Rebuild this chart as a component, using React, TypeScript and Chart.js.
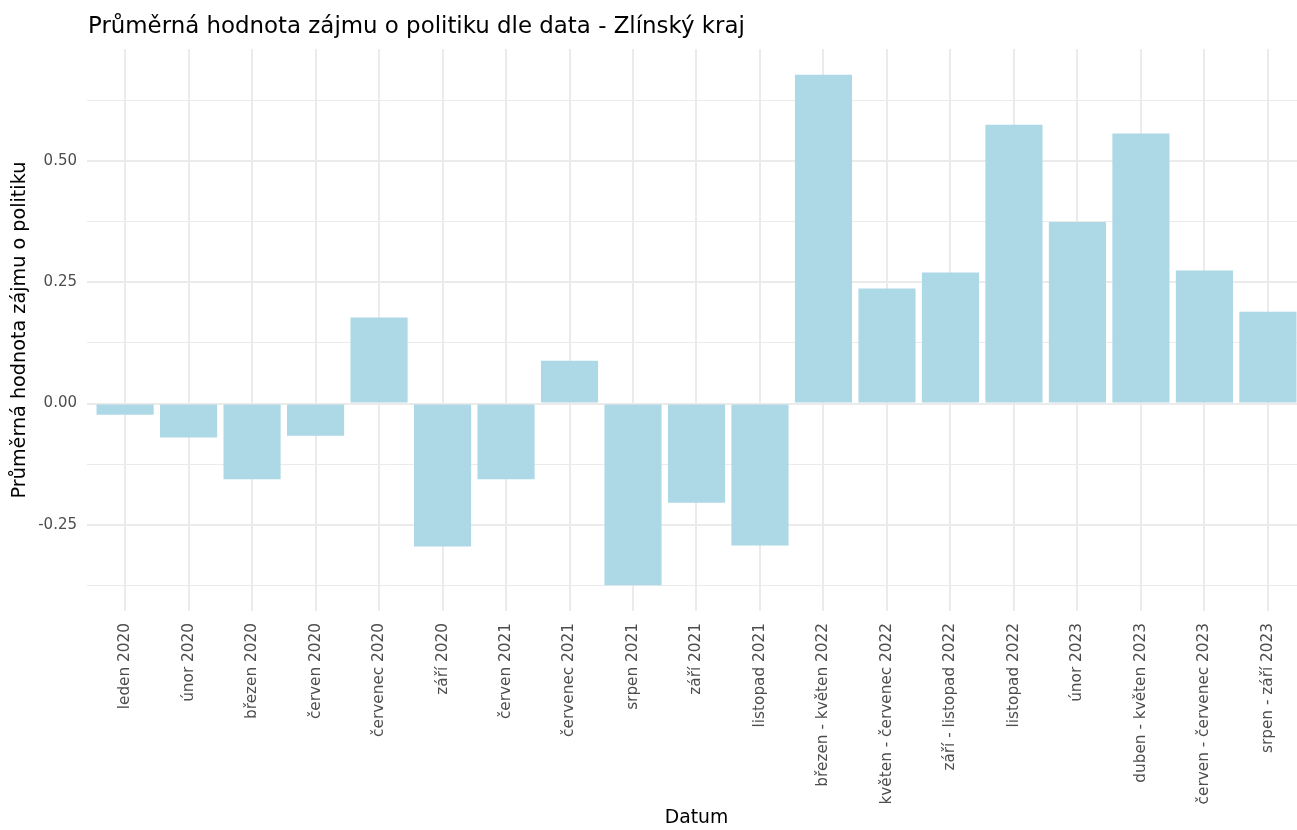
import React, { useEffect, useRef } from "react";
import { Chart, registerables } from "chart.js";

Chart.register(...registerables);

const categories = [
  "leden 2020",
  "únor 2020",
  "březen 2020",
  "červen 2020",
  "červenec 2020",
  "září 2020",
  "červen 2021",
  "červenec 2021",
  "srpen 2021",
  "září 2021",
  "listopad 2021",
  "březen - květen 2022",
  "květen - červenec 2022",
  "září - listopad 2022",
  "listopad 2022",
  "únor 2023",
  "duben - květen 2023",
  "červen - červenec 2023",
  "srpen - září 2023",
];

const values = [
  -0.023, -0.07, -0.156, -0.066, 0.177, -0.294, -0.156, 0.088, -0.374, -0.204,
  -0.292, 0.677, 0.237, 0.27, 0.574, 0.374, 0.556, 0.274, 0.189,
];

const yTicks = [-0.375, -0.25, -0.125, 0, 0.125, 0.25, 0.375, 0.5, 0.625];
const yMajor = [-0.25, 0, 0.25, 0.5];

const titleText = "Průměrná hodnota zájmu o politiku dle data - Zlínský kraj";
const xTitle = "Datum";
const yTitle = "Průměrná hodnota zájmu o politiku";

const FONT = "'DejaVu Sans', sans-serif";

const isMajor = (v: number) => yMajor.some((m) => Math.abs(m - v) < 1e-9);

export default function App() {
  const ref = useRef<HTMLCanvasElement | null>(null);

  useEffect(() => {
    if (!ref.current) return;
    const titlePlugin = {
      id: "ggTitle",
      afterDraw(chart: any) {
        const ctx = chart.ctx;
        ctx.save();
        ctx.font = `22.9px ${FONT}`;
        ctx.fillStyle = "#000000";
        ctx.textAlign = "left";
        ctx.textBaseline = "alphabetic";
        ctx.fillText(titleText, 88, 33);
        ctx.restore();
      },
    };
    const chart = new Chart(ref.current, {
      type: "bar",
      data: {
        datasets: [
          {
            data: values.map((v, i) => ({ x: i, y: v })),
            backgroundColor: "#ADD8E6",
            borderWidth: 0,
            barPercentage: 0.9,
            categoryPercentage: 1,
          },
        ],
      },
      options: {
        responsive: false,
        animation: false,
        layout: { padding: { top: 49, left: 0, right: 0, bottom: 0 } },
        plugins: {
          legend: { display: false },
          tooltip: { enabled: false },
        },
        scales: {
          x: {
            type: "linear",
            min: -0.6,
            max: 18.6,
            offset: false,
            afterBuildTicks: (scale: any) => {
              scale.ticks = categories.map((_, i) => ({ value: i }));
            },
            afterFit: (scale: any) => {
              scale.height = 219;
            },
            border: { display: false },
            grid: {
              color: "#EBEBEB",
              lineWidth: 2,
              drawTicks: false,
              offset: false,
            },
            ticks: {
              autoSkip: false,
              maxRotation: 90,
              minRotation: 90,
              padding: 12,
              color: "#4D4D4D",
              font: { family: FONT, size: 15.3 },
              callback: (v: any) => categories[Number(v)] ?? "",
            },
            title: {
              display: true,
              text: xTitle,
              color: "#000000",
              font: { family: FONT, size: 18.8 },
              padding: { top: 0, bottom: 1 },
            },
          },
          y: {
            type: "linear",
            min: -0.427,
            max: 0.73,
            afterBuildTicks: (scale: any) => {
              scale.ticks = yTicks.map((v) => ({ value: v }));
            },
            afterFit: (scale: any) => {
              scale.width = 87;
            },
            border: { display: false },
            grid: {
              color: "#EBEBEB",
              lineWidth: (c: any) => (c.tick && isMajor(c.tick.value) ? 2 : 1),
              drawTicks: false,
            },
            ticks: {
              padding: 10,
              color: "#4D4D4D",
              font: { family: FONT, size: 15 },
              callback: (v: any) => (isMajor(Number(v)) ? Number(v).toFixed(2) : ""),
            },
            title: {
              display: true,
              text: yTitle,
              color: "#000000",
              font: { family: FONT, size: 19.2 },
              padding: { top: 8, bottom: 0 },
            },
          },
        },
      },
      plugins: [titlePlugin],
    } as any);
    return () => chart.destroy();
  }, []);

  return (
    <div
      style={{
        position: "fixed",
        left: 0,
        top: 0,
        width: 1297,
        height: 830,
        overflow: "hidden",
        background: "#ffffff",
      }}
    >
      <canvas ref={ref} width={1306} height={830} style={{ display: "block" }} />
    </div>
  );
}
